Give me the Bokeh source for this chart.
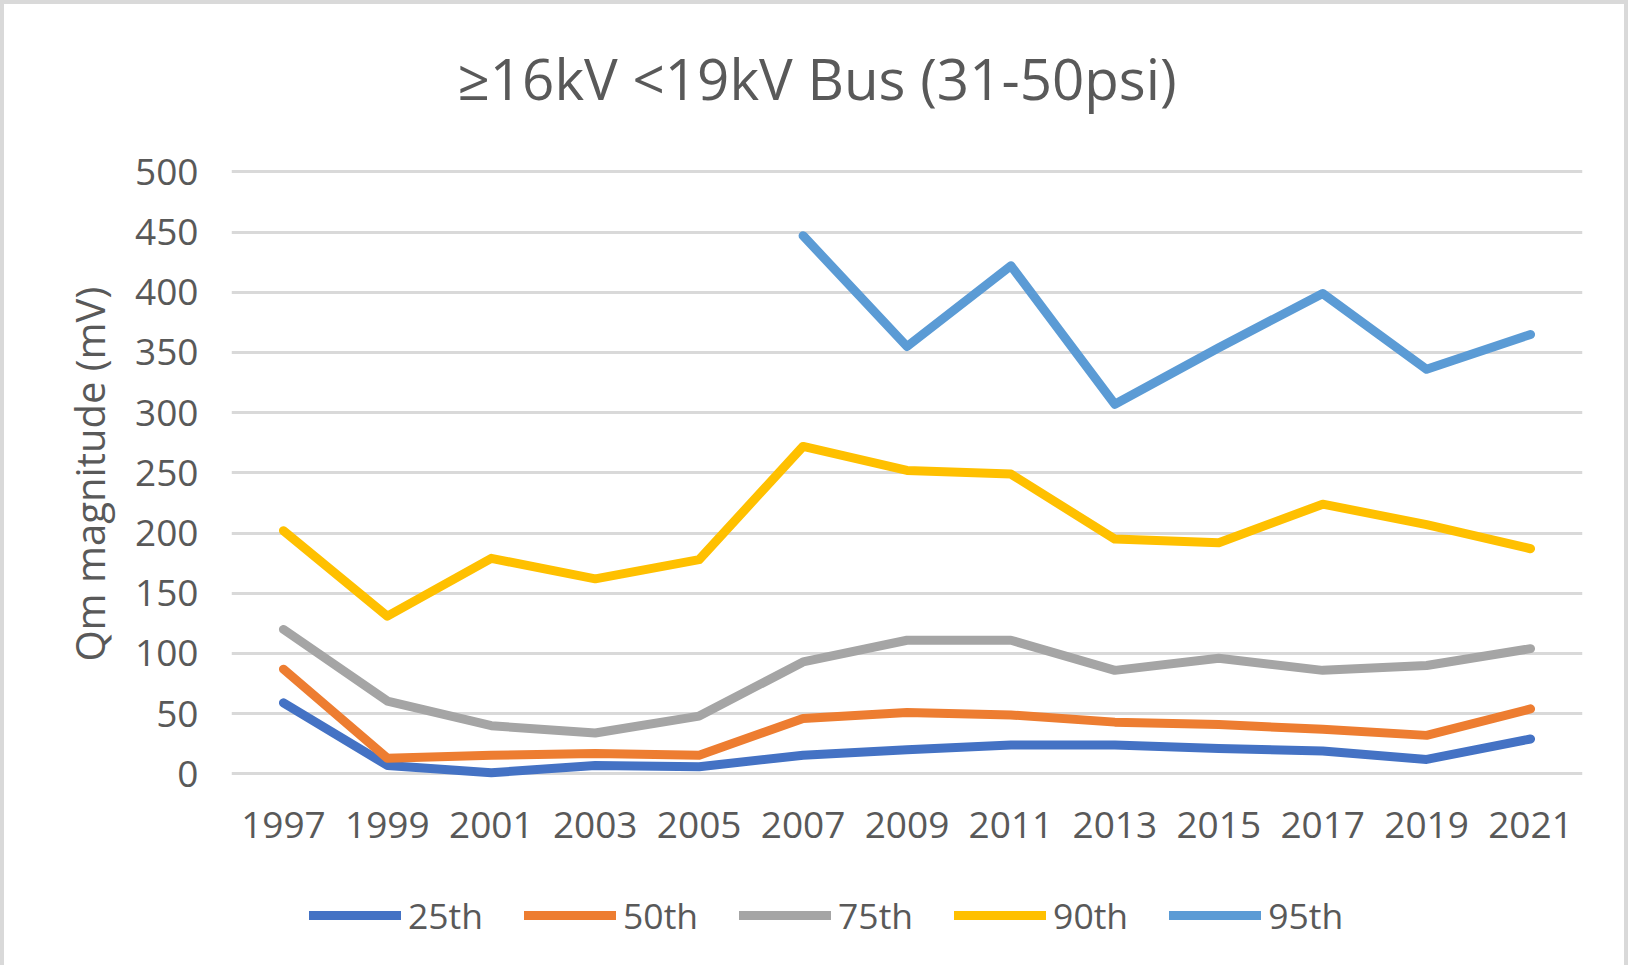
from bokeh.plotting import figure
from bokeh.models import Range1d, Legend, LegendItem, SingleIntervalTicker, Title
from bokeh.embed import file_html
from bokeh.resources import INLINE

years = ["1997", "1999", "2001", "2003", "2005", "2007", "2009", "2011",
         "2013", "2015", "2017", "2019", "2021"]
p25 = [59, 7, 1, 7, 6, 15.5, 20, 24, 24, 21, 19, 12, 29]
p50 = [87, 13, 15.5, 17, 15.5, 46, 51, 49, 43, 41, 37, 32, 54]
p75 = [120, 60.5, 40, 34, 48, 93, 111, 111, 86, 96, 86, 90, 104]
p90 = [202, 131, 179, 162, 178, 272, 252, 249, 195, 192, 224, 207, 187]
years95 = ["2007", "2009", "2011", "2013", "2015", "2017", "2019", "2021"]
p95 = [447, 355, 422, 307, 354, 399, 336, 365]

series_names = ["25th", "50th", "75th", "90th", "95th"]
colors = ["#4472C4", "#ED7D31", "#A5A5A5", "#FFC000", "#5B9BD5"]

FONT = "Open Sans"
TXT = "#595959"

# frame spans the whole area below the title so that the legend (inside it) is
# not clipped; the value axis and its grid only cover 0..500
p = figure(x_range=years, y_range=Range1d(-158.3, 546.0), width=1628, height=965,
           output_backend="svg", toolbar_location=None,
           min_border_left=227, min_border_right=50, min_border_top=112,
           min_border_bottom=5, title="≥16kV <19kV Bus (31-50psi)")
p.styles = {"border-top": "4px solid #D9D9D9", "border-left": "4px solid #D9D9D9",
            "border-right": "4px solid #D9D9D9"}
p.outline_line_color = None

p.title.text_font = FONT
p.title.text_font_size = "56.5px"
p.title.text_font_style = "normal"
p.title.text_color = TXT
p.title.align = "left"
p.title.vertical_align = "bottom"
p.title.offset = 226
p.title.standoff = 0

p.xgrid.grid_line_color = None
p.ygrid.grid_line_color = "#D9D9D9"
p.ygrid.grid_line_width = 3
p.ygrid.bounds = (0, 500)
p.yaxis.ticker = SingleIntervalTicker(interval=50)
p.yaxis.bounds = (0, 500)
p.xaxis.fixed_location = 0

for ax in (p.xaxis[0], p.yaxis[0]):
    ax.axis_line_color = None
    ax.major_tick_line_color = None
    ax.minor_tick_line_color = None
    ax.major_label_text_font = FONT
    ax.major_label_text_font_size = "37px"
    ax.major_label_text_color = TXT
p.xaxis.major_label_standoff = 32
p.yaxis.major_label_standoff = 27

ylab = Title(text="Qm magnitude (mV)", align="left", offset=303, standoff=31,
             text_font=FONT, text_font_size="40px", text_font_style="normal",
             text_color=TXT)
p.add_layout(ylab, "left")

data = [(years, p25), (years, p50), (years, p75), (years, p90), (years95, p95)]
items = []
for (xs, ys), name, c in zip(data, series_names, colors):
    r = p.line(xs, ys, line_color=c, line_width=9, line_cap="round", line_join="round")
    items.append(LegendItem(label=name, renderers=[r]))

legend = Legend(items=items, orientation="horizontal", location=(78, 25),
                glyph_width=92, glyph_height=20, label_standoff=7, spacing=41,
                padding=0, margin=0, border_line_color=None, background_fill_alpha=0,
                label_text_font=FONT, label_text_font_size="35.5px", label_text_color=TXT)
p.add_layout(legend, "center")

open("out.html", "w").write(file_html(p, INLINE))
